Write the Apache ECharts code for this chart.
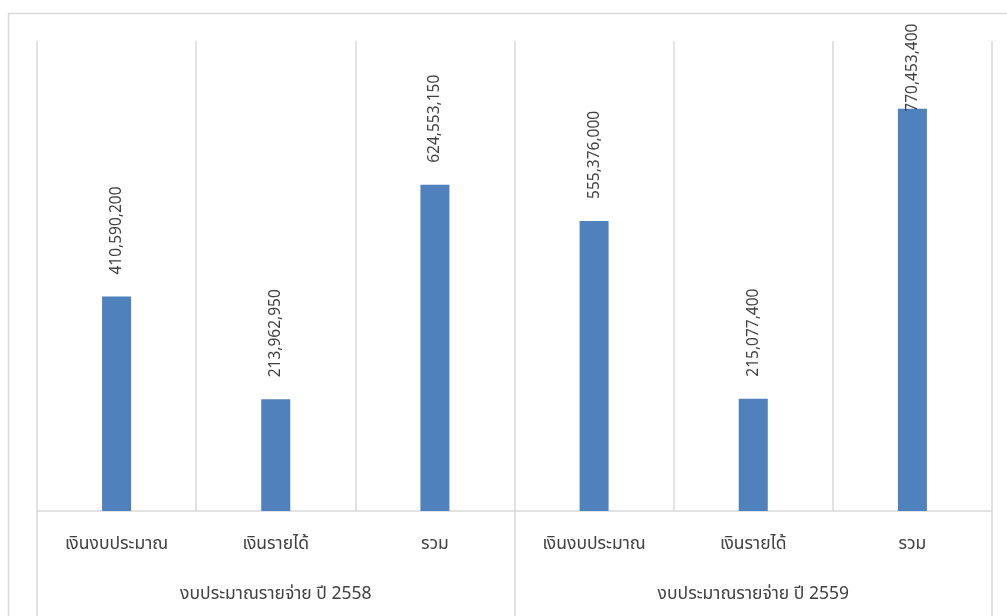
<!DOCTYPE html>
<html><head><meta charset="utf-8">
<script src="https://cdn.jsdelivr.net/npm/echarts@6/dist/echarts.min.js"></script>
<style>html,body{margin:0;padding:0;background:#fff}#c{width:1007px;height:616px}</style>
</head><body><div id="c"></div>
<script>
const categories = ['เงินงบประมาณ','เงินรายได้','รวม','เงินงบประมาณ','เงินรายได้','รวม'];
const groups = ['งบประมาณรายจ่าย ปี 2558','งบประมาณรายจ่าย ปี 2559'];
const values = [410590200, 213962950, 624553150, 555376000, 215077400, 770453400];
const yMax = 900000000;

const chart = echarts.init(document.getElementById('c'));
const fontFam = '"Noto Sans", "Noto Sans Thai", Tahoma, sans-serif';
const txt = '#404040';
const grid = '#d9d9d9';
const data = values.map(v => {
  const item = {value: v};
  if (v > yMax * 0.8) item.label = {distance: -3};
  return item;
});
chart.setOption({
  animation: false,
  graphic: [
    {type: 'rect', shape: {x: 8.5, y: 13.5, width: 1100, height: 700}, style: {fill: 'none', stroke: grid, lineWidth: 1.5}, silent: true}
  ],
  grid: {left: 37, right: 15, top: 41, bottom: 105},
  xAxis: [{
    type: 'category', data: categories, position: 'bottom',
    axisLine: {lineStyle: {color: grid, width: 1.5}},
    axisTick: {show: false},
    splitLine: {show: true, interval: 0, lineStyle: {color: grid, width: 1.5}},
    axisLabel: {interval: 0, margin: 24, color: txt, fontSize: 17.5, fontFamily: fontFam}
  }, {
    type: 'category', data: groups, position: 'bottom',
    axisLine: {show: false},
    axisTick: {show: true, interval: 0, length: 110, lineStyle: {color: grid, width: 1.5}},
    axisLabel: {interval: 0, margin: 74, color: txt, fontSize: 17.5, fontFamily: fontFam}
  }],
  yAxis: {type: 'value', min: 0, max: yMax, show: false, splitLine: {show: false}},
  series: [{
    type: 'bar', data: data, barWidth: 29, xAxisIndex: 0,
    itemStyle: {color: '#4F81BD'},
    label: {show: true, position: 'top', rotate: 90, align: 'left', verticalAlign: 'middle', distance: 22,
      color: txt, fontSize: 15.5, fontFamily: fontFam,
      formatter: p => p.value.toLocaleString('en-US')}
  }]
});
</script></body></html>
